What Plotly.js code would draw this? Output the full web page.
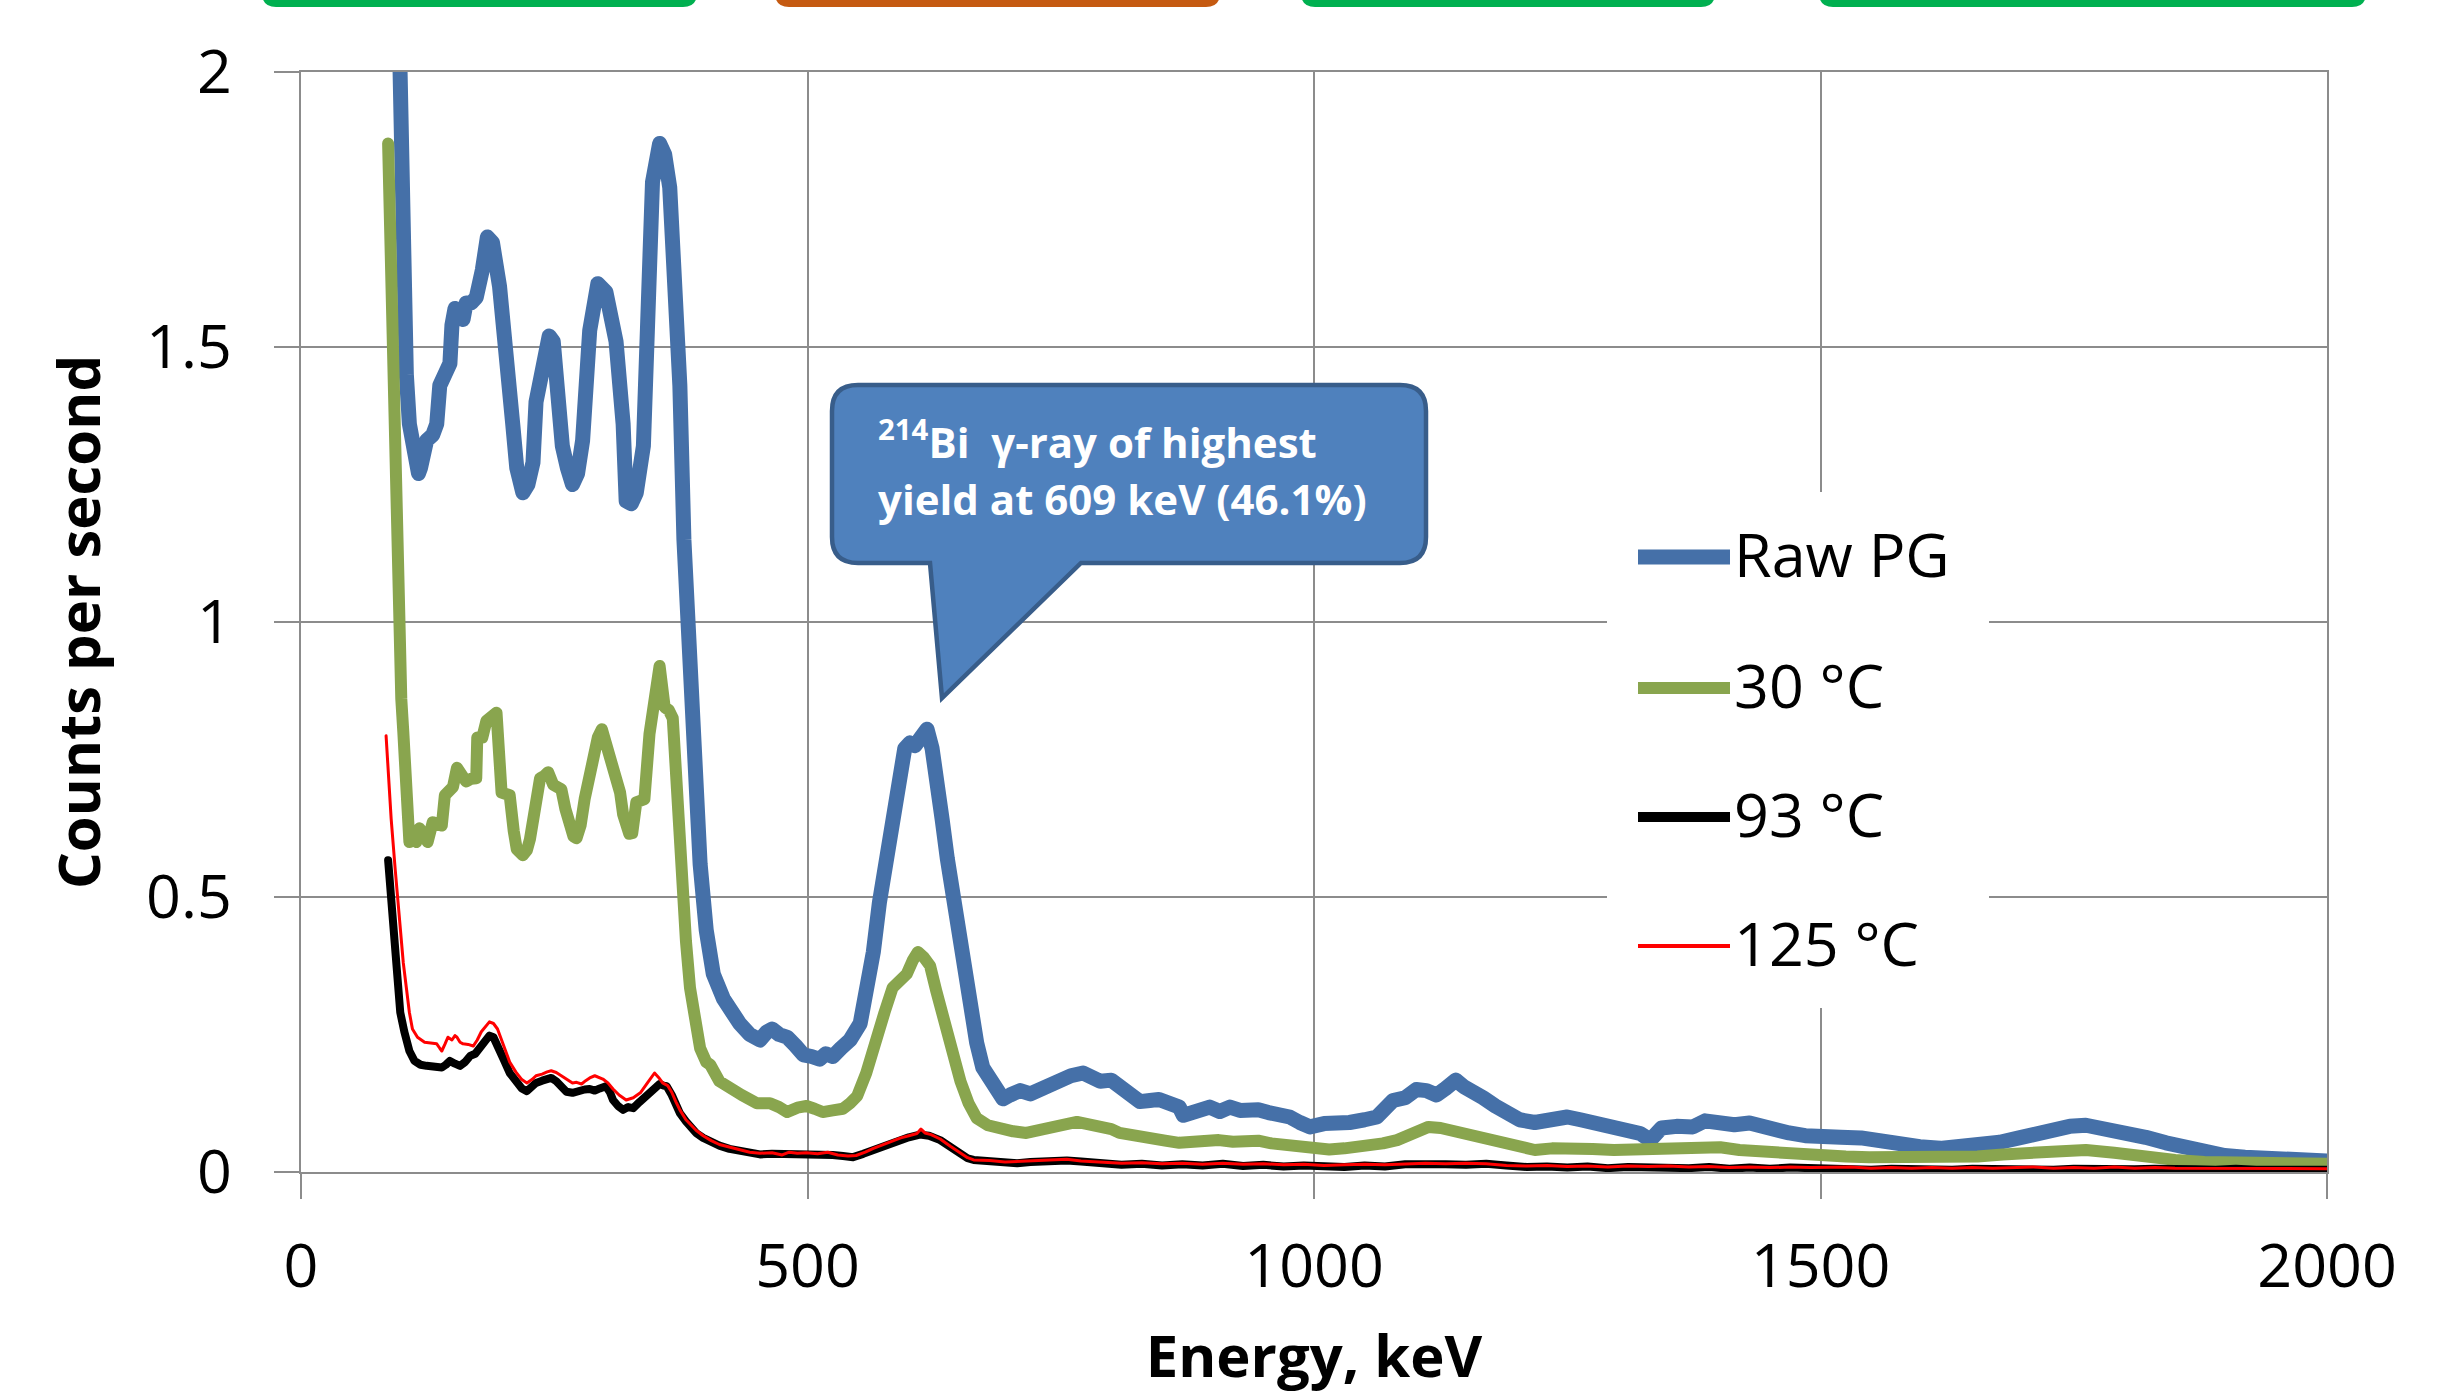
<!DOCTYPE html>
<html>
<head>
<meta charset="utf-8">
<script src="https://cdn.plot.ly/plotly-3.0.1.min.js"></script>
<style>
  html, body { margin: 0; padding: 0; background: #ffffff; }
  #chart { width: 2444px; height: 1394px; }
  .js-line { stroke-linejoin: round; stroke-linecap: round; }
</style>
</head>
<body>
<div id="chart"></div>
<script>
// ---------------- DATA ----------------
const seriesNames = ["Raw PG", "30 °C", "93 °C", "125 °C"];

const energyRaw = [
  95,100,104,107,112,116,118,124,130,134,
  137,142,147,149,152,156,160,163,168,173,
  175,179,184,189,196,203,209,213,219,224,
  229,232,238,245,249,252,258,263,268,273,
  278,285,293,301,306,311,318,321,326,331,
  338,344,347,354,359,364,369,374,378,383,
  388,394,400,407,417,425,433,443,453,460,
  465,472,480,488,496,504,512,518,525,533,
  542,552,558,565,571,578,583,588,596,601,
  606,612,618,623,628,633,638,645,651,659,
  667,673,680,687,693,700,710,720,729,740,
  749,760,772,780,789,800,812,820,828,838,
  847,857,867,871,880,887,897,907,917,927,
  937,945,955,966,976,986,996,1010,1023,1035,
  1050,1062,1070,1078,1090,1101,1111,1121,1130,1140,
  1148,1156,1167,1179,1190,1203,1218,1234,1250,1263,
  1277,1290,1300,1312,1322,1332,1343,1358,1374,1386,
  1401,1415,1430,1450,1469,1485,1500,1520,1540,1560,
  1579,1598,1618,1638,1657,1677,1696,1714,1731,1746,
  1762,1781,1801,1821,1841,1860,1879,1899,1919,1938,
  1957,1975,1989,2000
];
const countsRaw = [
  2.25,1.62,1.45,1.36,1.29,1.27,1.28,1.33,1.34,1.36,
  1.43,1.45,1.47,1.54,1.57,1.56,1.55,1.58,1.58,1.59,
  1.63,1.64,1.70,1.69,1.61,1.50,1.36,1.28,1.235,1.25,
  1.29,1.40,1.47,1.52,1.51,1.43,1.32,1.28,1.25,1.27,
  1.33,1.53,1.615,1.60,1.56,1.51,1.36,1.22,1.215,1.235,
  1.32,1.62,1.80,1.87,1.85,1.79,1.64,1.43,1.15,0.92,
  0.72,0.56,0.44,0.36,0.315,0.29,0.27,0.25,0.24,0.255,
  0.26,0.25,0.245,0.23,0.213,0.21,0.205,0.215,0.21,0.225,
  0.24,0.27,0.32,0.40,0.49,0.57,0.62,0.67,0.77,0.78,
  0.775,0.79,0.805,0.77,0.72,0.64,0.57,0.48,0.40,0.30,
  0.235,0.19,0.165,0.14,0.133,0.14,0.148,0.142,0.15,0.155,
  0.17,0.175,0.18,0.175,0.165,0.167,0.15,0.14,0.128,0.13,
  0.132,0.125,0.118,0.103,0.11,0.113,0.118,0.11,0.118,0.112,
  0.115,0.113,0.108,0.105,0.10,0.09,0.082,0.088,0.087,0.09,
  0.095,0.10,0.115,0.13,0.135,0.15,0.148,0.14,0.152,0.167,
  0.155,0.143,0.135,0.12,0.11,0.095,0.09,0.093,0.10,0.095,
  0.089,0.085,0.08,0.076,0.07,0.058,0.08,0.083,0.082,0.093,
  0.088,0.086,0.089,0.078,0.071,0.066,0.062,0.063,0.062,0.055,
  0.049,0.046,0.043,0.045,0.049,0.054,0.062,0.071,0.08,0.083,
  0.085,0.08,0.073,0.063,0.053,0.044,0.035,0.03,0.027,0.026,
  0.025,0.023,0.022,0.02
];

const energy30 = [
  86,89,92,96,99,101,104,107,111,114,
  117,121,125,130,135,139,142,146,150,154,
  158,163,168,173,174,179,183,188,193,198,
  202,206,210,213,219,223,226,231,236,240,
  244,249,253,257,261,265,269,272,276,280,
  284,288,293,297,301,305,310,315,318,321,
  324,327,331,335,339,344,349,354,359,363,
  367,370,372,376,380,384,389,394,400,404,
  413,424,435,450,463,472,480,490,499,507,
  515,525,535,542,549,558,568,576,584,591,
  598,604,609,615,621,627,634,642,651,659,
  667,678,690,703,716,730,740,749,758,766,
  778,789,800,808,818,828,840,853,867,880,
  893,906,920,933,945,958,970,984,995,1003,
  1015,1030,1043,1055,1068,1082,1095,1105,1113,1125,
  1140,1155,1167,1179,1195,1210,1218,1235,1257,1275,
  1296,1315,1336,1358,1380,1401,1420,1440,1469,1500,
  1525,1548,1575,1600,1627,1655,1680,1704,1730,1762,
  1790,1821,1850,1879,1910,1938,1970,2000
];
const counts30 = [
  1.87,1.60,1.28,1.05,0.86,0.80,0.65,0.60,0.615,0.60,
  0.625,0.61,0.60,0.636,0.63,0.63,0.685,0.69,0.70,0.735,
  0.72,0.71,0.715,0.716,0.79,0.79,0.82,0.83,0.835,0.69,
  0.69,0.685,0.62,0.587,0.576,0.585,0.605,0.66,0.716,0.72,
  0.727,0.704,0.70,0.696,0.66,0.624,0.61,0.607,0.63,0.678,
  0.72,0.753,0.79,0.805,0.78,0.753,0.72,0.69,0.65,0.624,
  0.615,0.616,0.672,0.675,0.678,0.796,0.86,0.92,0.845,0.84,
  0.825,0.72,0.61,0.518,0.42,0.335,0.27,0.225,0.20,0.195,
  0.165,0.15,0.14,0.125,0.125,0.118,0.109,0.117,0.12,0.115,
  0.109,0.112,0.115,0.125,0.138,0.18,0.233,0.29,0.335,0.35,
  0.36,0.385,0.40,0.39,0.375,0.33,0.28,0.22,0.165,0.125,
  0.098,0.085,0.078,0.074,0.071,0.075,0.08,0.085,0.088,0.091,
  0.087,0.085,0.078,0.071,0.067,0.064,0.06,0.057,0.053,0.055,
  0.058,0.058,0.055,0.058,0.057,0.052,0.05,0.045,0.042,0.04,
  0.041,0.043,0.045,0.05,0.052,0.058,0.068,0.077,0.082,0.08,
  0.073,0.066,0.06,0.053,0.047,0.042,0.04,0.043,0.045,0.042,
  0.04,0.041,0.04,0.042,0.044,0.045,0.04,0.037,0.035,0.03,
  0.028,0.027,0.026,0.025,0.025,0.028,0.032,0.035,0.038,0.04,
  0.035,0.027,0.022,0.018,0.017,0.016,0.016,0.015
];

const energy93 = [
  86,89,91,93,95,98,102,107,112,118,
  124,131,139,143,147,152,157,162,167,172,
  176,181,186,190,194,200,206,212,218,223,
  228,232,238,243,247,252,257,262,268,274,
  280,285,290,295,301,305,308,313,318,323,
  328,334,341,347,354,358,361,366,370,374,
  380,385,390,397,405,413,423,433,443,453,
  465,480,490,499,510,525,535,545,555,565,
  575,585,592,600,611,620,631,641,651,658,
  664,680,695,707,720,735,756,770,789,810,
  830,850,870,890,910,930,950,970,990,1010,
  1030,1050,1070,1090,1110,1130,1150,1170,1190,1210,
  1230,1250,1270,1290,1310,1330,1350,1370,1390,1410,
  1430,1450,1470,1490,1510,1530,1550,1570,1590,1610,
  1630,1650,1670,1690,1710,1730,1750,1770,1790,1810,
  1830,1850,1870,1890,1910,1930,1950,1970,1990,2000
];
const counts93 = [
  0.567,0.50,0.458,0.40,0.335,0.29,0.255,0.22,0.202,0.195,
  0.193,0.19,0.19,0.195,0.202,0.197,0.193,0.20,0.211,0.215,
  0.224,0.235,0.248,0.245,0.231,0.205,0.18,0.165,0.152,0.147,
  0.155,0.162,0.166,0.168,0.171,0.165,0.153,0.146,0.144,0.148,
  0.15,0.151,0.148,0.152,0.156,0.145,0.131,0.12,0.113,0.118,
  0.116,0.127,0.138,0.148,0.16,0.157,0.156,0.14,0.122,0.107,
  0.092,0.08,0.071,0.062,0.053,0.048,0.042,0.038,0.034,0.032,
  0.033,0.033,0.034,0.033,0.032,0.031,0.029,0.027,0.033,0.04,
  0.048,0.055,0.06,0.063,0.068,0.066,0.058,0.045,0.032,0.025,
  0.022,0.02,0.017,0.016,0.018,0.02,0.021,0.019,0.016,0.013,
  0.015,0.012,0.014,0.012,0.015,0.011,0.013,0.01,0.012,0.01,
  0.009,0.012,0.01,0.014,0.015,0.014,0.013,0.015,0.012,0.009,
  0.01,0.008,0.01,0.007,0.009,0.008,0.01,0.007,0.009,0.006,
  0.008,0.006,0.008,0.007,0.005,0.007,0.004,0.006,0.005,0.007,
  0.004,0.006,0.005,0.007,0.006,0.004,0.006,0.005,0.007,0.005,
  0.006,0.004,0.005,0.004,0.006,0.004,0.005,0.004,0.005,0.004
];

const energy125 = [
  84,86,89,93,97,101,104,107,110,115,
  122,128,134,137,139,142,145,149,152,154,
  157,160,165,170,174,178,182,186,190,194,
  200,206,212,218,223,228,232,238,243,247,
  252,257,262,268,272,277,281,285,290,294,
  298,303,308,314,321,328,335,342,349,353,
  357,362,366,370,374,380,385,390,397,405,
  413,423,433,443,453,465,475,482,490,499,
  510,520,530,540,548,557,565,575,585,592,
  600,608,612,616,622,631,641,651,658,664,
  680,695,707,720,735,756,770,789,810,830,
  850,870,890,910,930,950,970,990,1010,1030,
  1050,1070,1090,1110,1130,1150,1170,1190,1210,1230,
  1250,1270,1290,1310,1330,1350,1370,1390,1410,1430,
  1450,1470,1490,1510,1530,1550,1570,1590,1610,1630,
  1650,1670,1690,1710,1730,1750,1770,1790,1810,1830,
  1850,1870,1890,1910,1930,1950,1970,1990,2000
];
const counts125 = [
  0.793,0.73,0.642,0.55,0.458,0.38,0.335,0.29,0.26,0.245,
  0.236,0.235,0.233,0.225,0.22,0.232,0.245,0.24,0.248,0.245,
  0.236,0.233,0.232,0.229,0.24,0.255,0.265,0.273,0.27,0.26,
  0.23,0.20,0.182,0.168,0.162,0.168,0.175,0.178,0.182,0.184,
  0.181,0.175,0.168,0.162,0.163,0.16,0.166,0.171,0.175,0.172,
  0.169,0.162,0.151,0.14,0.131,0.135,0.144,0.162,0.18,0.172,
  0.162,0.157,0.145,0.128,0.113,0.095,0.085,0.076,0.066,0.057,
  0.05,0.045,0.04,0.036,0.034,0.035,0.031,0.036,0.034,0.035,
  0.033,0.036,0.031,0.029,0.03,0.036,0.043,0.05,0.057,0.062,
  0.066,0.07,0.078,0.071,0.068,0.06,0.047,0.034,0.026,0.022,
  0.021,0.018,0.019,0.02,0.022,0.023,0.02,0.018,0.016,0.017,
  0.015,0.016,0.014,0.016,0.014,0.015,0.013,0.014,0.012,0.013,
  0.014,0.013,0.015,0.016,0.015,0.016,0.015,0.012,0.011,0.012,
  0.01,0.011,0.009,0.011,0.01,0.011,0.009,0.01,0.008,0.009,
  0.008,0.009,0.008,0.008,0.009,0.007,0.008,0.007,0.008,0.007,
  0.008,0.007,0.008,0.009,0.007,0.008,0.007,0.009,0.007,0.008,
  0.007,0.007,0.006,0.007,0.006,0.007,0.006,0.006,0.006
];

const xTickVals = [0, 500, 1000, 1500, 2000];
const yTickVals = [0, 0.5, 1, 1.5, 2];
const calloutLines = ["<sup>214</sup>Bi  γ-ray of highest", "yield at 609 keV (46.1%)"];
const xTitle = "Energy, keV";
const yTitle = "Counts per second";

// ---------------- STYLE ----------------
const colors = ["#4570A8", "#89A54E", "#000000", "#FF0000"];
const widths = [15, 12, 8, 3];
const legendWidths = [15, 12, 10, 4];
const gridCol = "#8C8C8C";
const FONT = "Open Sans, Noto Sans, DejaVu Sans, sans-serif";

const W = 2444, H = 1394;
const M = { l: 301, r: 117, t: 72, b: 222 };
const PW = W - M.l - M.r, PH = H - M.t - M.b;
const XR = [0, 2000], YR = [0, 2];
// pixel -> data helpers for decorations (callout, legend box)
const dx = px => XR[0] + (px - M.l) / PW * (XR[1] - XR[0]);
const dy = py => YR[0] + (M.t + PH - py) / PH * (YR[1] - YR[0]);
// pixel -> paper helpers (for things outside the plot area)
const pxp = px => (px - M.l) / PW;
const pyp = py => (M.t + PH - py) / PH;

const xs = [energyRaw, energy30, energy93, energy125];
const ys = [countsRaw, counts30, counts93, counts125];

const traces = ys.map((y, i) => ({
  type: "scatter",
  mode: "lines",
  x: xs[i],
  y: y,
  name: seriesNames[i],
  showlegend: false,
  line: { color: colors[i], width: widths[i] },
  hoverinfo: "x+y+name"
}));

// rounded-rect / callout path in data coordinates built from pixel geometry
function P(px, py) { return dx(px).toFixed(3) + "," + dy(py).toFixed(5); }
function calloutPath() {
  const L = 832, R = 1426, T = 385, B = 563, r = 26;
  const tl = 930, tip = [942, 698], tr = 1081;
  return "M" + P(L + r, T) +
    " L" + P(R - r, T) + " Q" + P(R, T) + " " + P(R, T + r) +
    " L" + P(R, B - r) + " Q" + P(R, B) + " " + P(R - r, B) +
    " L" + P(tr, B) + " L" + P(tip[0], tip[1]) + " L" + P(tl, B) +
    " L" + P(L + r, B) + " Q" + P(L, B) + " " + P(L, B - r) +
    " L" + P(L, T + r) + " Q" + P(L, T) + " " + P(L + r, T) + " Z";
}
function PP(px, py) { return pxp(px).toFixed(5) + "," + pyp(py).toFixed(5); }
function topTab(x0, x1) {
  const top = -20, bot = 7, r = 14;
  return "M" + PP(x0, top) + " L" + PP(x0, bot - r) + " Q" + PP(x0, bot) + " " + PP(x0 + r, bot) +
    " L" + PP(x1 - r, bot) + " Q" + PP(x1, bot) + " " + PP(x1, bot - r) + " L" + PP(x1, top) + " Z";
}

const shapes = [];
// cropped tabs at the top edge of the picture
[[262, 697, "#00B050"], [775, 1220, "#C55A11"], [1301, 1715, "#00B050"], [1819, 2366, "#00B050"]]
  .forEach(t => shapes.push({
    type: "path", xref: "paper", yref: "paper", path: topTab(t[0], t[1]),
    fillcolor: t[2], line: { width: 0 }, layer: "above"
  }));
// legend white box (covers gridlines)
shapes.push({
  type: "rect", xref: "x", yref: "y",
  x0: dx(1607), x1: dx(1989), y0: dy(1008), y1: dy(492),
  fillcolor: "#ffffff", line: { width: 0 }, layer: "between"
});
// legend line samples
const legendY = [557, 688, 817, 946];
legendY.forEach((py, i) => shapes.push({
  type: "line", xref: "x", yref: "y",
  x0: dx(1638), x1: dx(1730), y0: dy(py), y1: dy(py),
  line: { color: colors[i], width: legendWidths[i] }, layer: "above"
}));
// callout
shapes.push({
  type: "path", xref: "x", yref: "y", path: calloutPath(),
  fillcolor: "#4F81BD", line: { color: "#385D8A", width: 4.5 }, layer: "above"
});

const annotations = [];
seriesNames.forEach((n, i) => annotations.push({
  xref: "x", yref: "y", x: dx(1732), y: dy(legendY[i] - 4),
  xanchor: "left", yanchor: "middle", showarrow: false, text: n,
  font: { family: FONT, size: 61, color: "#000000" }
}));
[439, 498].forEach((py, i) => annotations.push({
  xref: "x", yref: "y", x: dx(876), y: dy(py),
  xanchor: "left", yanchor: "middle", showarrow: false, text: calloutLines[i],
  font: { family: FONT, size: 42, color: "#ffffff", weight: "bold" }
}));

const axisCommon = {
  showgrid: true, gridcolor: gridCol, gridwidth: 2,
  showline: true, mirror: true, linecolor: gridCol, linewidth: 2,
  zeroline: false,
  ticks: "outside", ticklen: 25, tickwidth: 2, tickcolor: gridCol,
  tickfont: { family: FONT, size: 61, color: "#000000" },
  automargin: false, fixedrange: true
};

const layout = {
  width: W, height: H,
  margin: M,
  paper_bgcolor: "#ffffff", plot_bgcolor: "#ffffff",
  showlegend: false,
  font: { family: FONT, color: "#000000" },
  xaxis: Object.assign({}, axisCommon, {
    range: XR, tickvals: xTickVals, ticklabelstandoff: 15,
    title: { text: xTitle, font: { family: FONT, size: 58, color: "#000000", weight: "bold" }, standoff: 55 }
  }),
  yaxis: Object.assign({}, axisCommon, {
    range: YR, tickvals: yTickVals, ticklabelstandoff: 30,
    title: { text: yTitle, font: { family: FONT, size: 58, color: "#000000", weight: "bold" }, standoff: 27 }
  }),
  shapes: shapes,
  annotations: annotations
};

Plotly.newPlot("chart", traces, layout, { displayModeBar: false, staticPlot: true });
</script>
</body>
</html>
